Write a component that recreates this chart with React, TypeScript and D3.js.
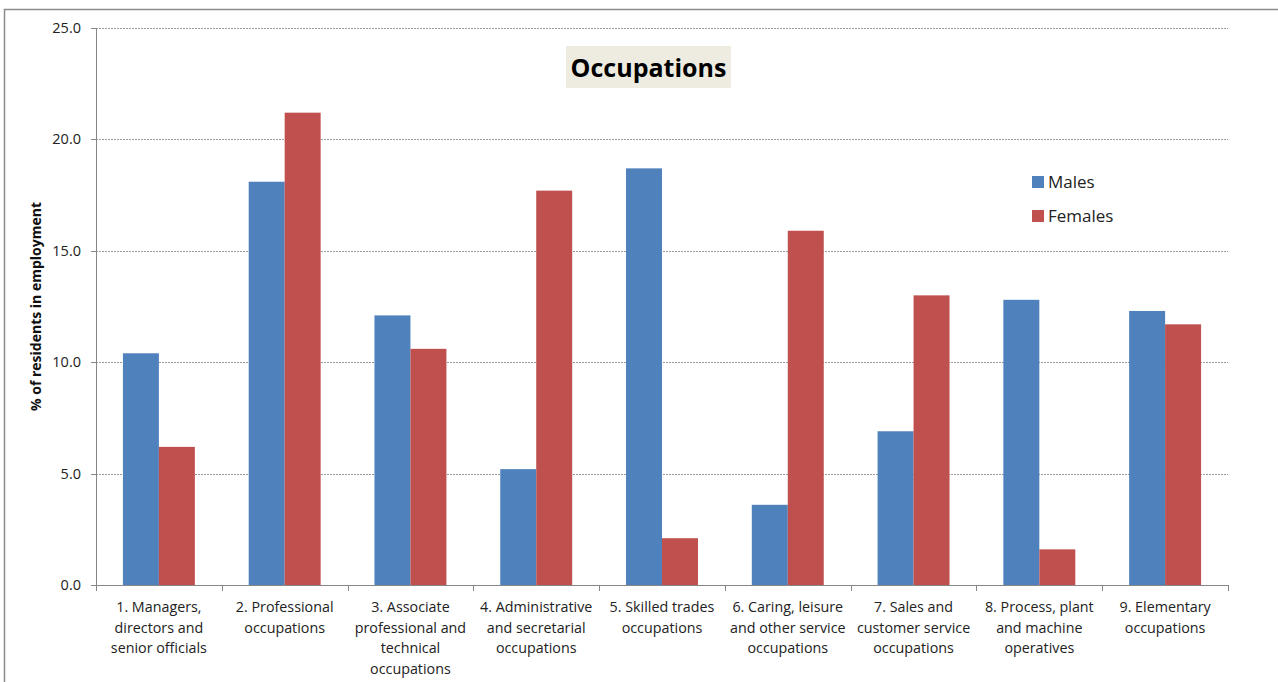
import React from "react";
import * as d3 from "d3";

const categories: string[][] = [
  ["1. Managers,", "directors and", "senior officials"],
  ["2. Professional", "occupations"],
  ["3. Associate", "professional and", "technical", "occupations"],
  ["4. Administrative", "and secretarial", "occupations"],
  ["5. Skilled trades", "occupations"],
  ["6. Caring, leisure", "and other service", "occupations"],
  ["7. Sales and", "customer service", "occupations"],
  ["8. Process, plant", "and machine", "operatives"],
  ["9. Elementary", "occupations"],
];
const males = [10.4, 18.1, 12.1, 5.2, 18.7, 3.6, 6.9, 12.8, 12.3];
const females = [6.2, 21.2, 10.6, 17.7, 2.1, 15.9, 13.0, 1.6, 11.7];
const yTicks = [0, 5, 10, 15, 20, 25];
const seriesNames = ["Males", "Females"];
const seriesColors = ["#4F81BD", "#C0504D"];

const W = 1278;
const H = 682;
const left = 96;
const right = 1228;
const top = 28;
const bottom = 585;
const font = "'Open Sans', 'Noto Sans', sans-serif";

export default function App() {
  const x = d3
    .scaleBand<number>()
    .domain(d3.range(categories.length))
    .range([left, right])
    .paddingInner(0)
    .paddingOuter(0);
  const y = d3.scaleLinear().domain([0, 25]).range([bottom, top]);
  const bw = x.bandwidth();
  const barW = bw * 0.286;
  const gap = (bw - 2 * barW) / 2;
  const series = [males, females];

  return (
    <svg
      width={W}
      height={H}
      style={{ position: "absolute", left: 0, top: 0, background: "#fff" }}
      fontFamily={font}
    >
      <rect x={4.5} y={9.5} width={W + 10} height={H + 10} fill="#fff" stroke="#8c8c8c" strokeWidth={1.5} />
      {/* gridlines */}
      {yTicks.slice(1).map((t) => (
        <line
          key={t}
          x1={left}
          x2={right}
          y1={Math.round(y(t)) + 0.5}
          y2={Math.round(y(t)) + 0.5}
          stroke="#9a9a9a"
          strokeWidth={1}
          strokeDasharray="2,1"
        />
      ))}
      {/* bars */}
      {series.map((vals, s) =>
        vals.map((v, i) => (
          <rect
            key={`${s}-${i}`}
            x={(x(i) as number) + gap + s * barW}
            y={y(v)}
            width={barW}
            height={bottom - y(v)}
            fill={seriesColors[s]}
          />
        ))
      )}
      {/* axes */}
      <line x1={left + 0.5} x2={left + 0.5} y1={top} y2={bottom} stroke="#868686" />
      <line x1={left} x2={right} y1={bottom + 0.5} y2={bottom + 0.5} stroke="#868686" />
      {yTicks.map((t) => (
        <g key={t}>
          <line x1={left - 5} x2={left} y1={Math.round(y(t)) + 0.5} y2={Math.round(y(t)) + 0.5} stroke="#868686" />
          <text x={left - 15} y={y(t)} dy="0.35em" textAnchor="end" fontSize={14.5} fill="#222">
            {t.toFixed(1)}
          </text>
        </g>
      ))}
      {d3.range(categories.length + 1).map((i) => {
        const xx = Math.round(left + i * bw) + 0.5;
        return <line key={i} x1={xx} x2={xx} y1={bottom} y2={bottom + 6} stroke="#868686" />;
      })}
      {categories.map((lines, i) => (
        <text
          key={i}
          x={(x(i) as number) + bw / 2}
          y={612}
          textAnchor="middle"
          fontSize={14.3}
          fill="#222"
        >
          {lines.map((l, k) => (
            <tspan key={k} x={(x(i) as number) + bw / 2} dy={k === 0 ? 0 : 20.7}>
              {l}
            </tspan>
          ))}
        </text>
      ))}
      {/* y-axis title */}
      <text
        transform={`translate(41,${(top + bottom) / 2}) rotate(-90)`}
        textAnchor="middle"
        fontSize={14}
        fontWeight="bold"
        fill="#111"
      >
        % of residents in employment
      </text>
      {/* title */}
      <rect x={566} y={46} width={165} height={42} fill="#EEECE1" />
      <text x={648.5} y={77} textAnchor="middle" fontSize={25} fontWeight="bold" fill="#000">
        Occupations
      </text>
      {/* legend */}
      {seriesNames.map((n, s) => (
        <g key={n}>
          <rect x={1032} y={176 + s * 34} width={12} height={12} fill={seriesColors[s]} />
          <text x={1048} y={182 + s * 34} dy="0.35em" fontSize={17} fill="#222">
            {n}
          </text>
        </g>
      ))}
    </svg>
  );
}
